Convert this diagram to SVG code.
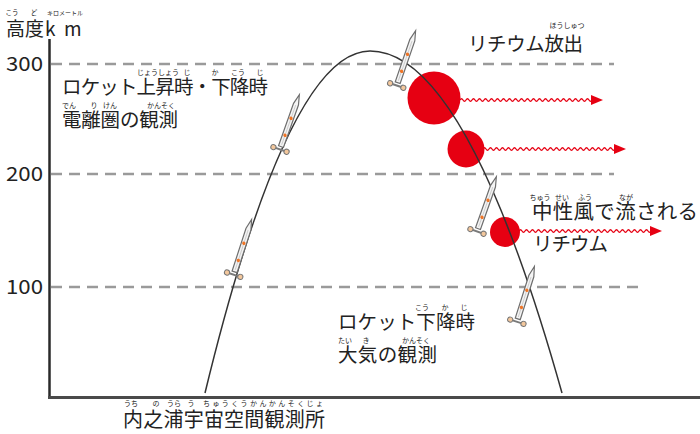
<svg xmlns="http://www.w3.org/2000/svg" xmlns:xlink="http://www.w3.org/1999/xlink" width="700" height="434" viewBox="0 0 700 434">
  <style>
    text { font-family: "Noto Sans CJK JP", "Noto Sans", sans-serif; fill: #222; }
    .t { font-size: 19.5px; }
    .r { font-size: 7px; text-anchor: middle; }
    .grid { stroke: #9a9a9a; stroke-width: 2.5; stroke-dasharray: 11 7; fill: none; }
    .lith { fill: #e60012; }
    .wave { fill: none; stroke: #e60012; stroke-width: 1.3; }
    .head { fill: #e60012; }
  </style>
  <defs>
    <!-- rocket drawn upright, centred on its body -->
    <g id="rocket">
      <path d="M-2.6,24 L-2.6,-21 L0,-31 L2.6,-21 L2.6,24 Z" fill="#f4f4f4" stroke="#6e6e6e" stroke-width="1.2"/>
      <line x1="0" y1="-20" x2="0" y2="22" stroke="#c8c8c8" stroke-width="0.8"/>
      <circle cx="0" cy="-6" r="1.7" fill="#ef7526"/>
      <circle cx="0" cy="12" r="1.7" fill="#ef7526"/>
      <line x1="-7" y1="27" x2="7" y2="27" stroke="#7a7a7a" stroke-width="2"/>
      <circle cx="-7" cy="27" r="2.6" fill="#f3c79c" stroke="#777" stroke-width="1"/>
      <circle cx="7" cy="27" r="2.6" fill="#f3c79c" stroke="#777" stroke-width="1"/>
    </g>
    <!-- wavy drift arrow, 143 px long -->
    <g id="drift">
      <path class="wave" d="M0,0 q1.5,-2.5 3,0 t3,0t3,0t3,0t3,0t3,0t3,0t3,0t3,0t3,0t3,0 t3,0t3,0t3,0t3,0t3,0t3,0t3,0t3,0t3,0t3,0 t3,0t3,0t3,0t3,0t3,0t3,0t3,0t3,0t3,0t3,0 t3,0t3,0t3,0t3,0t3,0t3,0t3,0t3,0t3,0t3,0 t3,0t3,0t3,0"/>
      <polygon class="head" points="131,-5 143,0 131,5"/>
    </g>
  </defs>

  <rect width="700" height="434" fill="#fff"/>

  <!-- altitude grid -->
  <g id="grid">
    <line class="grid" x1="51" y1="64" x2="614" y2="64"/>
    <line class="grid" x1="51" y1="174" x2="614" y2="174"/>
    <line class="grid" x1="51" y1="287" x2="640" y2="287"/>
  </g>

  <!-- axes -->
  <g id="axes">
    <line x1="49.5" y1="39" x2="49.5" y2="398" stroke="#2a2a2a" stroke-width="2.5"/>
    <line x1="48" y1="397.5" x2="700" y2="397.5" stroke="#4a4a4a" stroke-width="3"/>
    <text><tspan class="r" style="font-size:6.5px" x="12" y="15">こう</tspan><tspan class="r" style="font-size:6.5px" x="34" y="15">ど</tspan><tspan class="r" style="font-size:6px" x="65" y="15">キロメートル</tspan><tspan x="6" y="35.5" style="font-size:19px">高度</tspan><tspan x="45" y="35.5" style="font-size:19px">k</tspan><tspan x="64" y="35.5" style="font-size:19px">m</tspan></text>
    <text x="6" y="71" class="t" textLength="37" lengthAdjust="spacingAndGlyphs">300</text>
    <text x="6" y="181" class="t" textLength="37" lengthAdjust="spacingAndGlyphs">200</text>
    <text x="6" y="294" class="t" textLength="37" lengthAdjust="spacingAndGlyphs">100</text>
  </g>

  <!-- lithium clouds -->
  <g id="lithium">
    <circle class="lith" cx="434" cy="98" r="26.5"/>
    <circle class="lith" cx="466" cy="149" r="18.5"/>
    <circle class="lith" cx="505" cy="232" r="15"/>
  </g>

  <!-- flight path and drift arrows -->
  <g id="connectors">
    <path id="trajectory" d="M205,393 Q288,51 370,51 Q466,51 562,393" fill="none" stroke="#333" stroke-width="1.5"/>
    <use xlink:href="#drift" x="460" y="100"/>
    <use xlink:href="#drift" x="483" y="149"/>
    <use xlink:href="#drift" x="519" y="231"/>
  </g>

  <!-- rockets along the path -->
  <g id="rocket-1"><use xlink:href="#rocket" transform="translate(405.5,60) rotate(19)"/></g>
  <g id="rocket-2"><use xlink:href="#rocket" transform="translate(289,124) rotate(19.5)"/></g>
  <g id="rocket-3"><use xlink:href="#rocket" transform="translate(242,249) rotate(18)"/></g>
  <g id="rocket-4"><use xlink:href="#rocket" transform="translate(486,206) rotate(19.5)"/></g>
  <g id="rocket-5"><use xlink:href="#rocket" transform="translate(525,296) rotate(17.6)"/></g>

  <!-- labels: each line carries its furigana -->
  <g id="label-ascent">
    <text><tspan class="r" x="158" y="75">じょうしょう</tspan><tspan class="r" x="187" y="75">じ</tspan><tspan class="r" x="215" y="75">か</tspan><tspan class="r" x="238" y="75">こう</tspan><tspan class="r" x="260" y="75">じ</tspan><tspan class="t" x="62" y="93.5" textLength="206">ロケット上昇時・下降時</tspan></text>
    <text><tspan class="r" x="69" y="107.5">でん</tspan><tspan class="r" x="94" y="107.5">り</tspan><tspan class="r" x="110" y="107.5">けん</tspan><tspan class="r" x="161" y="107.5">かんそく</tspan><tspan class="t" x="62" y="126.5" textLength="116">電離圏の観測</tspan></text>
  </g>

  <g id="label-release">
    <text><tspan class="r" x="567" y="28">ほうしゅつ</tspan><tspan class="t" x="468" y="50.5" textLength="115">リチウム放出</tspan></text>
  </g>

  <g id="label-drift">
    <text><tspan class="r" x="540" y="200">ちゅう</tspan><tspan class="r" x="562" y="200">せい</tspan><tspan class="r" x="585" y="200">ふう</tspan><tspan class="r" x="626" y="200">なが</tspan><tspan class="t" x="532" y="218.5" style="font-size:20.5px" textLength="166">中性風で流される</tspan></text>
    <text x="533" y="250.5" class="t" textLength="75">リチウム</text>
  </g>

  <g id="label-descent">
    <text><tspan class="r" x="422" y="310">こう</tspan><tspan class="r" x="445" y="310">か</tspan><tspan class="r" x="464" y="310">じ</tspan><tspan class="t" x="338" y="328.5" textLength="137">ロケット下降時</tspan></text>
    <text><tspan class="r" x="345" y="342.5">たい</tspan><tspan class="r" x="366" y="342.5">き</tspan><tspan class="r" x="416" y="342.5">かんそく</tspan><tspan class="t" x="338" y="361.5" textLength="99">大気の観測</tspan></text>
  </g>

  <g id="label-site">
    <text><tspan class="r" x="131" y="406">うち</tspan><tspan class="r" x="156" y="406">の</tspan><tspan class="r" x="174" y="406">うら</tspan><tspan class="r" x="191" y="406">う</tspan><tspan x="203" y="406" style="font-size:7px" textLength="120">ちゅうくうかんかんそくじょ</tspan><tspan class="t" x="123" y="426.5" style="font-size:20px" textLength="202">内之浦宇宙空間観測所</tspan></text>
  </g>
</svg>
